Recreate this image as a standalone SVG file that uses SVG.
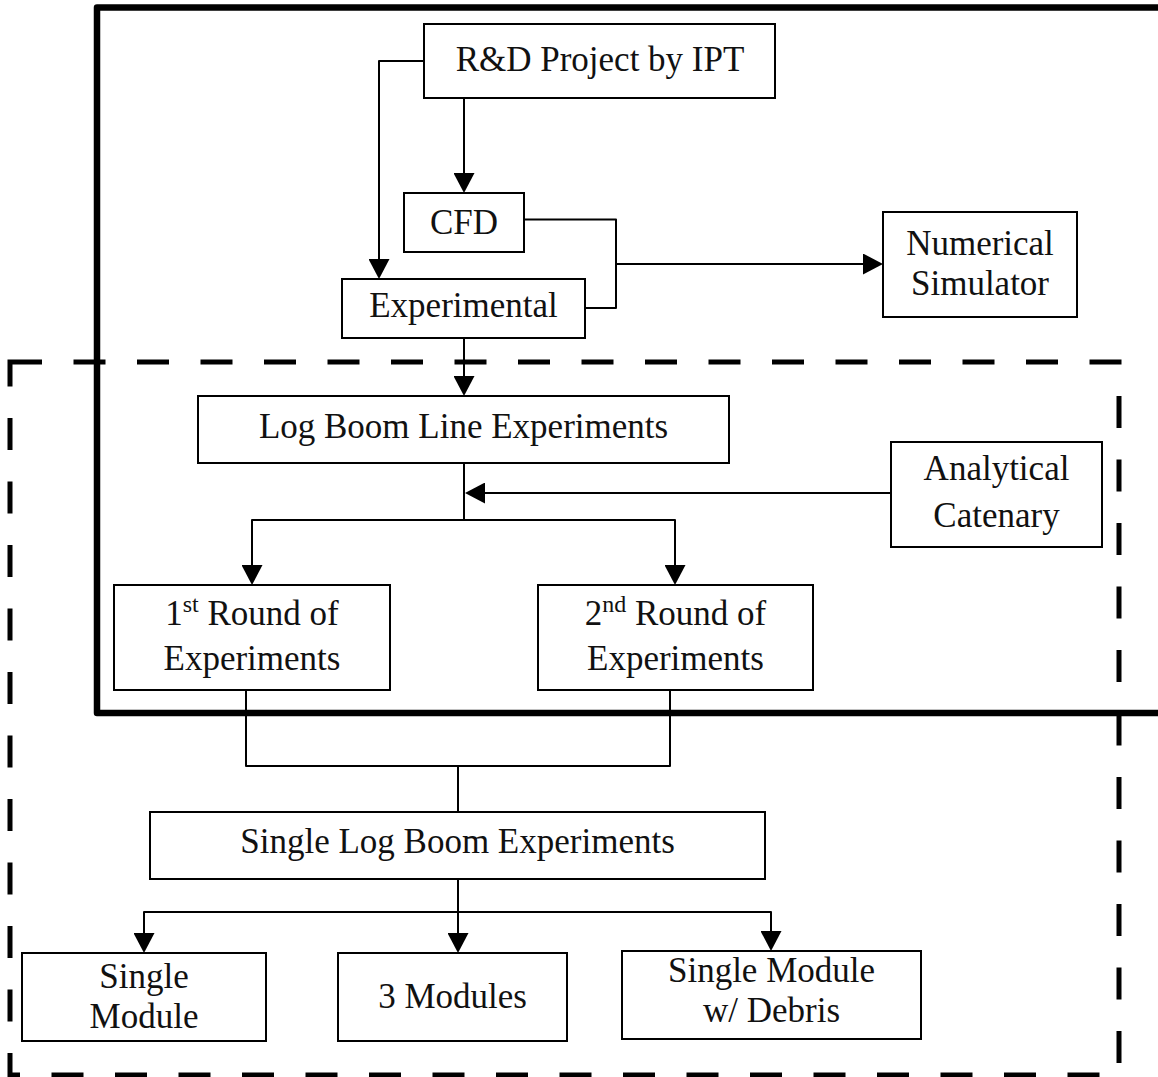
<svg xmlns="http://www.w3.org/2000/svg" width="1158" height="1077" viewBox="0 0 1158 1077">
<style>
  .box { fill: #fff; stroke: #000; stroke-width: 2; }
  .lbl { font-family: "Liberation Serif", "Times New Roman", serif; font-size: 35px; fill: #111; text-anchor: middle; }
  .con { fill: none; stroke: #000; stroke-width: 2; stroke-linejoin: round; }
  .arr { marker-end: url(#ah); }
</style>
<defs>
  <marker id="ah" viewBox="0 0 20 21" refX="18" refY="10.5" markerWidth="20" markerHeight="21" markerUnits="userSpaceOnUse" orient="auto">
    <path d="M0 0 L20 10.5 L0 21 Z" fill="#000"/>
  </marker>
</defs>
<rect width="1158" height="1077" fill="#fff"/>

<g id="frames">
  <rect id="dashed-frame" x="10" y="362" width="1109" height="713" fill="none" stroke="#000" stroke-width="5" stroke-dasharray="32 31.5"/>
  <path id="solid-frame" d="M1160 7.5 H97 V713 H1160" fill="none" stroke="#000" stroke-width="6.5" stroke-linejoin="round"/>
</g>

<g id="connectors">
  <path class="con arr" d="M424 61 H379 V277"/>
  <path class="con arr" d="M464 98 V191"/>
  <path class="con" d="M524 219.5 H616 V308 H585"/>
  <path class="con arr" d="M616 264 H881"/>
  <path class="con arr" d="M464 338 V394"/>
  <path class="con" d="M464 463 V520"/>
  <path class="con arr" d="M464 520 H252 V583"/>
  <path class="con arr" d="M464 520 H675 V583"/>
  <path class="con arr" d="M891 493 H467"/>
  <path class="con" d="M246 690 V766 H670 V690"/>
  <path class="con" d="M458 766 V812"/>
  <path class="con arr" d="M458 879 V951"/>
  <path class="con arr" d="M458 912 H144 V951"/>
  <path class="con arr" d="M458 912 H771 V949"/>
</g>

<g id="n-rd">
  <rect class="box" x="424" y="24" width="351" height="74"/>
  <text class="lbl" x="600" y="71">R&amp;D Project by IPT</text>
</g>
<g id="n-cfd">
  <rect class="box" x="404" y="193" width="120" height="59"/>
  <text class="lbl" x="464" y="234">CFD</text>
</g>
<g id="n-experimental">
  <rect class="box" x="342" y="279" width="243" height="59"/>
  <text class="lbl" x="463.5" y="317">Experimental</text>
</g>
<g id="n-numerical">
  <rect class="box" x="883" y="212" width="194" height="105"/>
  <text class="lbl" x="980" y="255">Numerical</text>
  <text class="lbl" x="980" y="295">Simulator</text>
</g>
<g id="n-logboomline">
  <rect class="box" x="198" y="396" width="531" height="67"/>
  <text class="lbl" x="463.5" y="438">Log Boom Line Experiments</text>
</g>
<g id="n-analytical">
  <rect class="box" x="891" y="442" width="211" height="105"/>
  <text class="lbl" x="996.5" y="480">Analytical</text>
  <text class="lbl" x="996.5" y="527">Catenary</text>
</g>
<g id="n-round1">
  <rect class="box" x="114" y="585" width="276" height="105"/>
  <text class="lbl" x="252" y="625">1<tspan font-size="24" dy="-13">st</tspan><tspan dy="13"> Round of</tspan></text>
  <text class="lbl" x="252" y="670">Experiments</text>
</g>
<g id="n-round2">
  <rect class="box" x="538" y="585" width="275" height="105"/>
  <text class="lbl" x="675.5" y="625">2<tspan font-size="24" dy="-13">nd</tspan><tspan dy="13"> Round of</tspan></text>
  <text class="lbl" x="675.5" y="670">Experiments</text>
</g>
<g id="n-singlelogboom">
  <rect class="box" x="150" y="812" width="615" height="67"/>
  <text class="lbl" x="457.5" y="853">Single Log Boom Experiments</text>
</g>
<g id="n-singlemodule">
  <rect class="box" x="22" y="953" width="244" height="88"/>
  <text class="lbl" x="144" y="988">Single</text>
  <text class="lbl" x="144" y="1028">Module</text>
</g>
<g id="n-3modules">
  <rect class="box" x="338" y="953" width="229" height="88"/>
  <text class="lbl" x="452.5" y="1008">3 Modules</text>
</g>
<g id="n-debris">
  <rect class="box" x="622" y="951" width="299" height="88"/>
  <text class="lbl" x="771.5" y="982">Single Module</text>
  <text class="lbl" x="771.5" y="1022">w/ Debris</text>
</g>
</svg>
